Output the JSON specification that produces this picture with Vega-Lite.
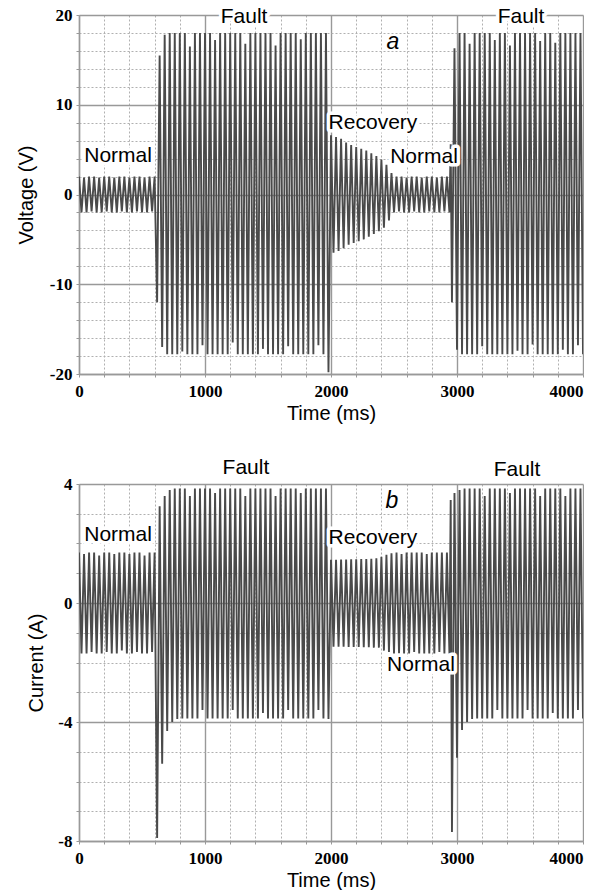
{
"$schema": "https://vega.github.io/schema/vega-lite/v6.json",
"background": "white",
"padding": {"left": 16, "top": 5, "right": 0, "bottom": 0},
"spacing": 110,
"bounds": "flush",
"config": {"view": {"stroke": null}, "font": "Liberation Sans"},
"datasets": {
"volt": [{"t":0,"v":2.0},{"t":20,"v":-2.0},{"t":40,"v":1.9},{"t":60,"v":-2.0},{"t":80,"v":2.0},{"t":100,"v":-1.9},{"t":120,"v":2.0},{"t":140,"v":-2.0},{"t":160,"v":1.9},{"t":180,"v":-2.0},{"t":200,"v":2.0},{"t":220,"v":-1.9},{"t":240,"v":2.0},{"t":260,"v":-2.0},{"t":280,"v":1.9},{"t":300,"v":-2.0},{"t":320,"v":2.0},{"t":340,"v":-1.9},{"t":360,"v":2.0},{"t":380,"v":-2.0},{"t":400,"v":1.9},{"t":420,"v":-2.0},{"t":440,"v":2.0},{"t":460,"v":-1.9},{"t":480,"v":2.0},{"t":500,"v":-2.0},{"t":520,"v":1.9},{"t":540,"v":-2.0},{"t":560,"v":2.0},{"t":580,"v":-1.9},{"t":600,"v":2.0},
{"t":620,"v":-12},{"t":640,"v":15.5},{"t":660,"v":-17},{"t":680,"v":17.8},{"t":700,"v":-17.8},
{"t":720,"v":18},{"t":740,"v":-17.8},{"t":760,"v":18},{"t":780,"v":-17.8},{"t":800,"v":18},{"t":820,"v":-17.5},{"t":840,"v":18},{"t":860,"v":-17.8},{"t":880,"v":16.5},{"t":900,"v":-17.8},{"t":920,"v":18},{"t":940,"v":-17.8},{"t":960,"v":18},{"t":980,"v":-16.8},{"t":1000,"v":18},{"t":1020,"v":-17.8},{"t":1040,"v":18},{"t":1060,"v":-17.8},{"t":1080,"v":17.2},{"t":1100,"v":-17.8},{"t":1120,"v":18},{"t":1140,"v":-17.8},{"t":1160,"v":18},{"t":1180,"v":-17.8},{"t":1200,"v":18},{"t":1220,"v":-16.5},{"t":1240,"v":18},{"t":1260,"v":-17.8},{"t":1280,"v":18},{"t":1300,"v":-17.8},{"t":1320,"v":16.8},{"t":1340,"v":-17.8},{"t":1360,"v":18},{"t":1380,"v":-17.8},{"t":1400,"v":18},{"t":1420,"v":-17.8},{"t":1440,"v":18},{"t":1460,"v":-17.2},{"t":1480,"v":18},{"t":1500,"v":-17.8},{"t":1520,"v":18},{"t":1540,"v":-17.8},{"t":1560,"v":16.6},{"t":1580,"v":-17.8},{"t":1600,"v":18},{"t":1620,"v":-17.8},{"t":1640,"v":18},{"t":1660,"v":-16.9},{"t":1680,"v":18},{"t":1700,"v":-17.8},{"t":1720,"v":18},{"t":1740,"v":-17.8},{"t":1760,"v":17.3},{"t":1780,"v":-17.8},{"t":1800,"v":18},{"t":1820,"v":-17.8},{"t":1840,"v":18},{"t":1860,"v":-17.8},{"t":1880,"v":18},{"t":1900,"v":-16.8},{"t":1920,"v":18},{"t":1940,"v":-17.8},{"t":1960,"v":18},
{"t":1980,"v":-19.8},
{"t":2000,"v":6.6},{"t":2020,"v":-6.5},{"t":2040,"v":6.4},{"t":2060,"v":-6.3},{"t":2080,"v":6.2},{"t":2100,"v":-6.0},{"t":2120,"v":5.8},{"t":2140,"v":-5.6},{"t":2160,"v":5.5},{"t":2180,"v":-5.4},{"t":2200,"v":5.3},{"t":2220,"v":-5.2},{"t":2240,"v":5.1},{"t":2260,"v":-5.0},{"t":2280,"v":4.9},{"t":2300,"v":-4.7},{"t":2320,"v":4.6},{"t":2340,"v":-4.4},{"t":2360,"v":4.3},{"t":2380,"v":-4.1},{"t":2400,"v":3.9},{"t":2420,"v":-3.7},{"t":2440,"v":3.3},{"t":2460,"v":-2.9},{"t":2480,"v":2.4},{"t":2500,"v":-2.0},
{"t":2520,"v":2.0},{"t":2540,"v":-1.9},{"t":2560,"v":2.0},{"t":2580,"v":-2.0},{"t":2600,"v":1.9},{"t":2620,"v":-2.0},{"t":2640,"v":2.0},{"t":2660,"v":-1.9},{"t":2680,"v":2.0},{"t":2700,"v":-2.0},{"t":2720,"v":1.9},{"t":2740,"v":-2.0},{"t":2760,"v":2.0},{"t":2780,"v":-1.9},{"t":2800,"v":2.0},{"t":2820,"v":-2.0},{"t":2840,"v":1.9},{"t":2860,"v":-2.0},{"t":2880,"v":2.0},{"t":2900,"v":-1.9},{"t":2920,"v":2.0},{"t":2940,"v":-2.0},
{"t":2950,"v":5.6},{"t":2960,"v":-12},{"t":2980,"v":16.3},{"t":3000,"v":-17.3},
{"t":3020,"v":18},{"t":3040,"v":-17.8},{"t":3060,"v":18},{"t":3080,"v":-17.8},{"t":3100,"v":16.8},{"t":3120,"v":-17.8},{"t":3140,"v":18},{"t":3160,"v":-17.8},{"t":3180,"v":18},{"t":3200,"v":-16.9},{"t":3220,"v":18},{"t":3240,"v":-17.8},{"t":3260,"v":18},{"t":3280,"v":-17.8},{"t":3300,"v":17.2},{"t":3320,"v":-17.8},{"t":3340,"v":18},{"t":3360,"v":-17.8},{"t":3380,"v":18},{"t":3400,"v":-17.8},{"t":3420,"v":16.6},{"t":3440,"v":-17.8},{"t":3460,"v":18},{"t":3480,"v":-17.4},{"t":3500,"v":18},{"t":3520,"v":-17.8},{"t":3540,"v":18},{"t":3560,"v":-17.8},{"t":3580,"v":18},{"t":3600,"v":-16.7},{"t":3620,"v":18},{"t":3640,"v":-17.8},{"t":3660,"v":17.1},{"t":3680,"v":-17.8},{"t":3700,"v":18},{"t":3720,"v":-17.8},{"t":3740,"v":18},{"t":3760,"v":-17.8},{"t":3780,"v":16.9},{"t":3800,"v":-17.8},{"t":3820,"v":18},{"t":3840,"v":-17.3},{"t":3860,"v":18},{"t":3880,"v":-17.8},{"t":3900,"v":18},{"t":3920,"v":-17.8},{"t":3940,"v":18},{"t":3960,"v":-16.8},{"t":3980,"v":18},{"t":4000,"v":-17.8}],
"curr": [{"t":0,"v":1.7},{"t":20,"v":-1.7},{"t":40,"v":1.65},{"t":60,"v":-1.7},{"t":80,"v":1.7},{"t":100,"v":-1.65},{"t":120,"v":1.7},{"t":140,"v":-1.7},{"t":160,"v":1.6},{"t":180,"v":-1.7},{"t":200,"v":1.7},{"t":220,"v":-1.65},{"t":240,"v":1.7},{"t":260,"v":-1.7},{"t":280,"v":1.65},{"t":300,"v":-1.7},{"t":320,"v":1.7},{"t":340,"v":-1.6},{"t":360,"v":1.7},{"t":380,"v":-1.7},{"t":400,"v":1.65},{"t":420,"v":-1.7},{"t":440,"v":1.7},{"t":460,"v":-1.65},{"t":480,"v":1.7},{"t":500,"v":-1.7},{"t":520,"v":1.6},{"t":540,"v":-1.7},{"t":560,"v":1.7},{"t":580,"v":-1.65},{"t":600,"v":1.7},
{"t":620,"v":-7.9},{"t":640,"v":3.25},{"t":660,"v":-5.4},{"t":680,"v":3.6},{"t":700,"v":-4.3},{"t":720,"v":3.8},{"t":740,"v":-4.0},{"t":760,"v":3.85},{"t":780,"v":-3.9},
{"t":800,"v":3.85},{"t":820,"v":-3.88},{"t":840,"v":3.85},{"t":860,"v":-3.88},{"t":880,"v":3.6},{"t":900,"v":-3.88},{"t":920,"v":3.85},{"t":940,"v":-3.88},{"t":960,"v":3.85},{"t":980,"v":-3.6},{"t":1000,"v":3.85},{"t":1020,"v":-3.88},{"t":1040,"v":3.85},{"t":1060,"v":-3.88},{"t":1080,"v":3.7},{"t":1100,"v":-3.88},{"t":1120,"v":3.85},{"t":1140,"v":-3.88},{"t":1160,"v":3.85},{"t":1180,"v":-3.88},{"t":1200,"v":3.85},{"t":1220,"v":-3.6},{"t":1240,"v":3.85},{"t":1260,"v":-3.88},{"t":1280,"v":3.85},{"t":1300,"v":-3.88},{"t":1320,"v":3.6},{"t":1340,"v":-3.88},{"t":1360,"v":3.85},{"t":1380,"v":-3.88},{"t":1400,"v":3.85},{"t":1420,"v":-3.88},{"t":1440,"v":3.85},{"t":1460,"v":-3.7},{"t":1480,"v":3.85},{"t":1500,"v":-3.88},{"t":1520,"v":3.85},{"t":1540,"v":-3.88},{"t":1560,"v":3.6},{"t":1580,"v":-3.88},{"t":1600,"v":3.85},{"t":1620,"v":-3.88},{"t":1640,"v":3.85},{"t":1660,"v":-3.6},{"t":1680,"v":3.85},{"t":1700,"v":-3.88},{"t":1720,"v":3.85},{"t":1740,"v":-3.88},{"t":1760,"v":3.7},{"t":1780,"v":-3.88},{"t":1800,"v":3.85},{"t":1820,"v":-3.88},{"t":1840,"v":3.85},{"t":1860,"v":-3.88},{"t":1880,"v":3.85},{"t":1900,"v":-3.6},{"t":1920,"v":3.85},{"t":1940,"v":-3.88},{"t":1960,"v":3.85},
{"t":1980,"v":-3.9},
{"t":2000,"v":1.45},{"t":2020,"v":-1.47},{"t":2040,"v":1.45},{"t":2060,"v":-1.47},{"t":2080,"v":1.46},{"t":2100,"v":-1.47},{"t":2120,"v":1.46},{"t":2140,"v":-1.48},{"t":2160,"v":1.47},{"t":2180,"v":-1.48},{"t":2200,"v":1.47},{"t":2220,"v":-1.48},{"t":2240,"v":1.48},{"t":2260,"v":-1.49},{"t":2280,"v":1.48},{"t":2300,"v":-1.49},{"t":2320,"v":1.49},{"t":2340,"v":-1.5},{"t":2360,"v":1.5},{"t":2380,"v":-1.5},{"t":2400,"v":1.55},{"t":2420,"v":-1.6},{"t":2440,"v":1.62},{"t":2460,"v":-1.65},{"t":2480,"v":1.67},{"t":2500,"v":-1.7},
{"t":2520,"v":1.7},{"t":2540,"v":-1.7},{"t":2560,"v":1.65},{"t":2580,"v":-1.7},{"t":2600,"v":1.7},{"t":2620,"v":-1.7},{"t":2640,"v":1.7},{"t":2660,"v":-1.65},{"t":2680,"v":1.7},{"t":2700,"v":-1.7},{"t":2720,"v":1.7},{"t":2740,"v":-1.7},{"t":2760,"v":1.65},{"t":2780,"v":-1.7},{"t":2800,"v":1.7},{"t":2820,"v":-1.7},{"t":2840,"v":1.7},{"t":2860,"v":-1.65},{"t":2880,"v":1.7},{"t":2900,"v":-1.7},{"t":2920,"v":1.7},{"t":2940,"v":-1.7},
{"t":2950,"v":3.46},{"t":2960,"v":-7.7},{"t":2980,"v":3.7},{"t":3000,"v":-5.2},{"t":3020,"v":3.8},{"t":3040,"v":-4.27},{"t":3060,"v":3.85},{"t":3080,"v":-4.0},{"t":3100,"v":3.85},{"t":3120,"v":-3.9},
{"t":3140,"v":3.85},{"t":3160,"v":-3.88},{"t":3180,"v":3.85},{"t":3200,"v":-3.88},{"t":3220,"v":3.6},{"t":3240,"v":-3.88},{"t":3260,"v":3.85},{"t":3280,"v":-3.88},{"t":3300,"v":3.85},{"t":3320,"v":-3.6},{"t":3340,"v":3.85},{"t":3360,"v":-3.88},{"t":3380,"v":3.85},{"t":3400,"v":-3.88},{"t":3420,"v":3.7},{"t":3440,"v":-3.88},{"t":3460,"v":3.85},{"t":3480,"v":-3.88},{"t":3500,"v":3.85},{"t":3520,"v":-3.88},{"t":3540,"v":3.85},{"t":3560,"v":-3.6},{"t":3580,"v":3.85},{"t":3600,"v":-3.88},{"t":3620,"v":3.85},{"t":3640,"v":-3.88},{"t":3660,"v":3.6},{"t":3680,"v":-3.88},{"t":3700,"v":3.85},{"t":3720,"v":-3.88},{"t":3740,"v":3.85},{"t":3760,"v":-3.7},{"t":3780,"v":3.85},{"t":3800,"v":-3.88},{"t":3820,"v":3.85},{"t":3840,"v":-3.88},{"t":3860,"v":3.6},{"t":3880,"v":-3.88},{"t":3900,"v":3.85},{"t":3920,"v":-3.88},{"t":3940,"v":3.85},{"t":3960,"v":-3.6},{"t":3980,"v":3.85},{"t":4000,"v":-3.88}],
"lblA": [{"t":310,"v":4.3,"s":"Normal"},{"t":1310,"v":19.8,"s":"Fault"},{"t":2333,"v":8.0,"s":"Recovery"},{"t":2738,"v":4.2,"s":"Normal"},{"t":3508,"v":19.8,"s":"Fault"}],
"lblB": [{"t":310,"v":2.28,"s":"Normal"},{"t":1325,"v":4.53,"s":"Fault"},{"t":2333,"v":2.17,"s":"Recovery"},{"t":2714,"v":-2.1,"s":"Normal"},{"t":3476,"v":4.46,"s":"Fault"}]
},
"vconcat": [
{
"width": 504, "height": 359,
"encoding": {
 "x": {"field": "t", "type": "quantitative", "scale": {"domain": [0, 4000], "nice": false, "zero": false},
  "axis": {"title": "Time (ms)", "values": [0,200,400,600,800,1000,1200,1400,1600,1800,2000,2200,2400,2600,2800,3000,3200,3400,3600,3800,4000],
   "labelExpr": "datum.value % 1000 === 0 ? '' + datum.value : ''", "labelOverlap": false, "labelFlush": false,
   "labelAlign": {"condition": {"test": "datum.value === 4000", "value": "right"}, "value": "center"},
   "grid": true, "gridColor": {"condition": {"test": "datum.value % 1000 === 0", "value": "#999999"}, "value": "#b0b0b0"},
   "gridDash": {"condition": {"test": "datum.value % 1000 === 0", "value": []}, "value": [2, 2]},
   "gridWidth": {"condition": {"test": "datum.value % 1000 === 0", "value": 1.4}, "value": 1},
   "domainColor": "#999999", "domainWidth": 1.4, "tickColor": "#999999", "tickSize": 3,
   "labelFont": "Liberation Serif", "labelFontWeight": "bold", "labelFontSize": 17, "labelColor": "black", "labelPadding": 6,
   "titleFont": "Liberation Sans", "titleFontWeight": "normal", "titleFontSize": 20, "titleColor": "black", "titlePadding": 4}},
 "y": {"field": "v", "type": "quantitative", "scale": {"domain": [-20, 20], "nice": false},
  "axis": {"title": "Voltage (V)", "values": [-20,-18,-16,-14,-12,-10,-8,-6,-4,-2,0,2,4,6,8,10,12,14,16,18,20],
   "labelExpr": "datum.value % 10 === 0 ? '' + datum.value : ''", "labelOverlap": false,
   "grid": true, "gridColor": {"condition": {"test": "datum.value % 10 === 0", "value": "#999999"}, "value": "#b0b0b0"},
   "gridDash": {"condition": {"test": "datum.value % 10 === 0", "value": []}, "value": [2, 2]},
   "gridWidth": {"condition": {"test": "datum.value % 10 === 0", "value": 1.4}, "value": 1},
   "domainColor": "#999999", "domainWidth": 1.4, "tickColor": "#999999", "tickSize": 3,
   "labelFont": "Liberation Serif", "labelFontWeight": "bold", "labelFontSize": 17, "labelColor": "black", "labelPadding": 4,
   "titleFont": "Liberation Sans", "titleFontWeight": "normal", "titleFontSize": 20, "titleColor": "black", "titlePadding": 13}}
},
"layer": [
 {"data": {"name": "volt"}, "mark": {"type": "line", "color": "#4a4a4a", "strokeWidth": 1.9, "clip": true}},
 {"data": {"name": "lblA"}, "mark": {"type": "text", "font": "Liberation Sans", "fontSize": 21, "baseline": "middle", "fill": "white", "stroke": "white", "strokeWidth": 7, "strokeJoin": "round"}, "encoding": {"text": {"field": "s"}}},
 {"data": {"name": "lblA"}, "mark": {"type": "text", "font": "Liberation Sans", "fontSize": 21, "baseline": "middle", "fill": "black"}, "encoding": {"text": {"field": "s"}}},
 {"data": {"values": [{"t": 2492, "v": 17, "s": "a"}]}, "mark": {"type": "text", "font": "Liberation Sans", "fontSize": 23, "fontStyle": "italic", "baseline": "middle", "fill": "black"}, "encoding": {"text": {"field": "s"}}}
]
},
{
"width": 504, "height": 357,
"encoding": {
 "x": {"field": "t", "type": "quantitative", "scale": {"domain": [0, 4000], "nice": false, "zero": false},
  "axis": {"title": "Time (ms)", "values": [0,200,400,600,800,1000,1200,1400,1600,1800,2000,2200,2400,2600,2800,3000,3200,3400,3600,3800,4000],
   "labelExpr": "datum.value % 1000 === 0 ? '' + datum.value : ''", "labelOverlap": false, "labelFlush": false,
   "labelAlign": {"condition": {"test": "datum.value === 4000", "value": "right"}, "value": "center"},
   "grid": true, "gridColor": {"condition": {"test": "datum.value % 1000 === 0", "value": "#999999"}, "value": "#b0b0b0"},
   "gridDash": {"condition": {"test": "datum.value % 1000 === 0", "value": []}, "value": [2, 2]},
   "gridWidth": {"condition": {"test": "datum.value % 1000 === 0", "value": 1.4}, "value": 1},
   "domainColor": "#999999", "domainWidth": 1.4, "tickColor": "#999999", "tickSize": 3,
   "labelFont": "Liberation Serif", "labelFontWeight": "bold", "labelFontSize": 17, "labelColor": "black", "labelPadding": 6,
   "titleFont": "Liberation Sans", "titleFontWeight": "normal", "titleFontSize": 20, "titleColor": "black", "titlePadding": 4}},
 "y": {"field": "v", "type": "quantitative", "scale": {"domain": [-8, 4], "nice": false, "zero": false},
  "axis": {"title": "Current (A)", "values": [-8,-7,-6,-5,-4,-3,-2,-1,0,1,2,3,4],
   "labelExpr": "datum.value % 4 === 0 ? '' + datum.value : ''", "labelOverlap": false,
   "grid": true, "gridColor": {"condition": {"test": "datum.value % 4 === 0", "value": "#999999"}, "value": "#b0b0b0"},
   "gridDash": {"condition": {"test": "datum.value % 4 === 0", "value": []}, "value": [2, 2]},
   "gridWidth": {"condition": {"test": "datum.value % 4 === 0", "value": 1.4}, "value": 1},
   "domainColor": "#999999", "domainWidth": 1.4, "tickColor": "#999999", "tickSize": 3,
   "labelFont": "Liberation Serif", "labelFontWeight": "bold", "labelFontSize": 17, "labelColor": "black", "labelPadding": 4,
   "titleFont": "Liberation Sans", "titleFontWeight": "normal", "titleFontSize": 20, "titleColor": "black", "titlePadding": 11}}
},
"layer": [
 {"data": {"name": "curr"}, "mark": {"type": "line", "color": "#4a4a4a", "strokeWidth": 1.9, "clip": true}},
 {"data": {"name": "lblB"}, "mark": {"type": "text", "font": "Liberation Sans", "fontSize": 21, "baseline": "middle", "fill": "white", "stroke": "white", "strokeWidth": 7, "strokeJoin": "round"}, "encoding": {"text": {"field": "s"}}},
 {"data": {"name": "lblB"}, "mark": {"type": "text", "font": "Liberation Sans", "fontSize": 21, "baseline": "middle", "fill": "black"}, "encoding": {"text": {"field": "s"}}},
 {"data": {"values": [{"t": 2484, "v": 3.42, "s": "b"}]}, "mark": {"type": "text", "font": "Liberation Sans", "fontSize": 23, "fontStyle": "italic", "baseline": "middle", "fill": "black"}, "encoding": {"text": {"field": "s"}}}
]
}
]
}
